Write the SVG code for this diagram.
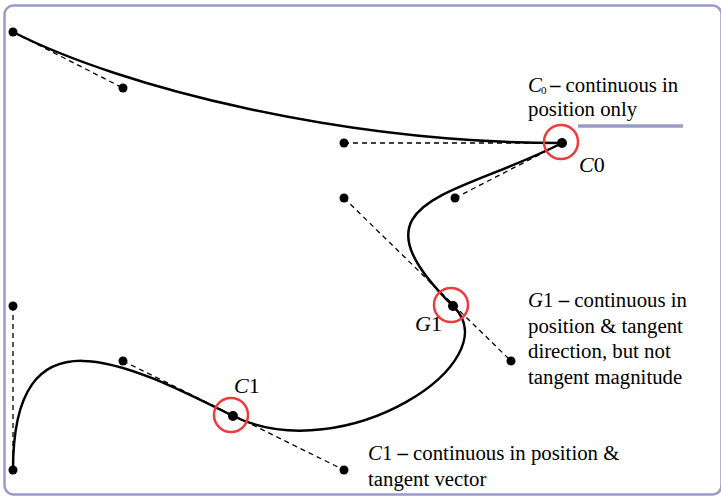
<svg xmlns="http://www.w3.org/2000/svg" width="721" height="497" viewBox="0 0 721 497">
<style>
.frame{fill:none;stroke:#9a9ac8;stroke-width:2.5}
.curve{fill:none;stroke:#000;stroke-width:2.5}
.dash{fill:none;stroke:#000;stroke-width:1.3;stroke-dasharray:5,4}
.dot{fill:#000}
.ring{fill:none;stroke:#ee3b3b;stroke-width:2.5}
.t{font-family:"Liberation Serif","Times New Roman",serif;font-size:20.8px;fill:#000}
.i{font-style:italic}
.b{font-weight:bold}
</style>
<rect class="frame" x="4.5" y="5.5" width="717" height="489" rx="9"/>
<line x1="578" y1="126" x2="683" y2="126" stroke="#9a9ac8" stroke-width="3.5"/>
<g id="connectors">
<line class="dash" x1="13" y1="32" x2="123" y2="88"/>
<line class="dash" x1="344" y1="143" x2="562" y2="143"/>
<line class="dash" x1="455" y1="198" x2="562" y2="143"/>
<line class="dash" x1="344" y1="198" x2="511" y2="361"/>
<line class="dash" x1="123" y1="361" x2="344" y2="470"/>
<line class="dash" x1="13" y1="306" x2="13" y2="470"/>
<path class="curve" d="M13,32 C123,88 344,143 562,143"/>
<path class="curve" d="M562,143 C455,198 344,198 453,306"/>
<path class="curve" d="M453,306 C511,361 344,470 233,416"/>
<path class="curve" d="M233,416 C123,361 13,306 13,470"/>
</g>
<g id="points">
<circle class="dot" cx="13" cy="32" r="4.5"/>
<circle class="dot" cx="123" cy="88" r="4.5"/>
<circle class="dot" cx="344" cy="143" r="4.5"/>
<circle class="dot" cx="455" cy="198" r="4.5"/>
<circle class="dot" cx="344" cy="198" r="4.5"/>
<circle class="dot" cx="511" cy="361" r="4.5"/>
<circle class="dot" cx="123" cy="361" r="4.5"/>
<circle class="dot" cx="344" cy="470" r="4.5"/>
<circle class="dot" cx="13" cy="306" r="4.5"/>
<circle class="dot" cx="13" cy="470" r="4.5"/>
</g>
<g id="C0">
<circle class="dot" cx="562" cy="143" r="5"/>
<circle class="ring" cx="561" cy="142" r="17"/>
<text class="t" x="579" y="172" style="font-size:22px"><tspan class="i">C</tspan>0</text>
<text class="t i" x="528" y="92">C</text>
<text class="t" x="541" y="94" style="font-size:11px">0</text>
<text class="t" x="550" y="92"><tspan class="b">–</tspan> continuous in</text>
<text class="t" x="528" y="116">position only</text>
</g>
<g id="G1">
<circle class="dot" cx="453" cy="306" r="5"/>
<circle class="ring" cx="451" cy="305" r="17"/>
<text class="t" x="415" y="331" style="font-size:22px"><tspan class="i">G</tspan>1</text>
<text class="t" x="528" y="307"><tspan class="i">G</tspan>1 <tspan class="b">–</tspan> continuous in</text>
<text class="t" x="528" y="333">position &amp; tangent</text>
<text class="t" x="528" y="358">direction, but not</text>
<text class="t" x="528" y="384">tangent magnitude</text>
</g>
<g id="C1">
<circle class="dot" cx="233" cy="416" r="5"/>
<circle class="ring" cx="231" cy="415" r="17"/>
<text class="t" x="234" y="393" style="font-size:22px"><tspan class="i">C</tspan>1</text>
<text class="t" x="368" y="460"><tspan class="i">C</tspan>1 <tspan class="b">–</tspan> continuous in position &amp;</text>
<text class="t" x="368" y="486">tangent vector</text>
</g>
</svg>
